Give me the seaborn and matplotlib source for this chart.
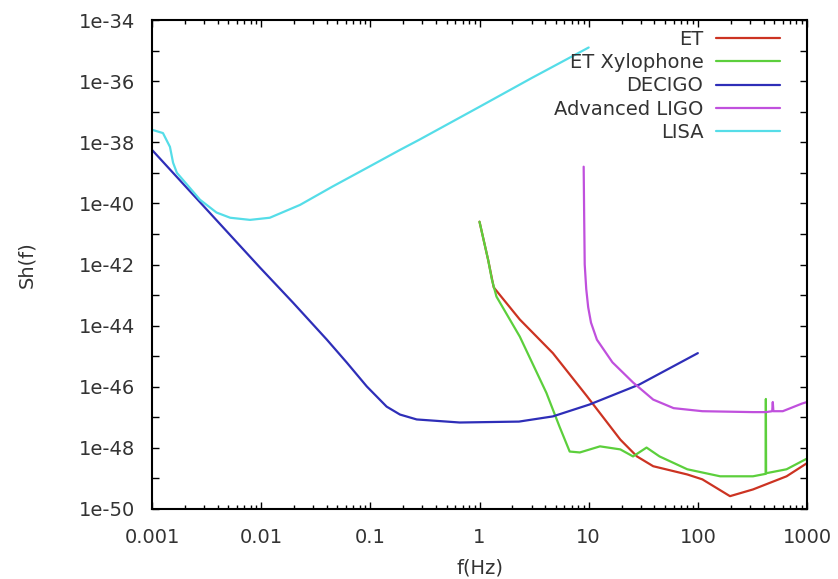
import numpy as np
import pandas as pd
import matplotlib
matplotlib.use("Agg")
import matplotlib.pyplot as plt
import matplotlib.ticker as mticker
import seaborn as sns

# ---------------- data (log10 of Sh(f)) ----------------
et_f = [1.0, 1.2, 1.35, 2.34, 4.7, 9.6, 19.5, 27.7, 39, 80, 110, 197, 320, 650, 1000]
et_logS = [-40.6, -41.85, -42.75, -43.8, -44.9, -46.3, -47.73, -48.28, -48.6,
           -48.87, -49.03, -49.58, -49.36, -48.93, -48.5]

xylo_f = [1.0, 1.2, 1.3, 1.43, 2.34, 4.1, 5.4, 6.7, 8.3, 12.7, 19.5, 25.5, 33.9,
          44.6, 80, 160, 320, 418, 420, 422, 650, 1000]
xylo_logS = [-40.6, -41.85, -42.5, -43.05, -44.36, -46.2, -47.3, -48.12, -48.15,
             -47.95, -48.05, -48.28, -47.99, -48.28, -48.7, -48.93, -48.93, -48.85,
             -46.4, -48.83, -48.7, -48.35]

decigo_f = [0.001, 0.00975, 0.0196, 0.040, 0.0609, 0.0928, 0.141, 0.187, 0.266,
            0.659, 2.3, 4.7, 10.2, 29, 100]
decigo_logS = [-38.25, -42.1, -43.25, -44.46, -45.21, -45.99, -46.65, -46.91,
               -47.07, -47.17, -47.14, -46.97, -46.58, -45.93, -44.9]

ligo_f = [9.0, 9.1, 9.2, 9.5, 9.9, 10.5, 11.9, 16.5, 25.5, 39, 60, 110, 320, 420,
          480, 486, 492, 600, 900, 1000]
ligo_logS = [-38.8, -40.5, -42.0, -42.8, -43.4, -43.9, -44.46, -45.2, -45.86,
             -46.42, -46.7, -46.8, -46.83, -46.83, -46.8, -46.5, -46.8, -46.8,
             -46.55, -46.5]

lisa_f = [0.00102, 0.00126, 0.00146, 0.00156, 0.00169, 0.00223, 0.00275, 0.0039,
          0.0052, 0.0079, 0.012, 0.0227, 0.045, 0.093, 0.187, 0.28, 1, 3, 10]
lisa_logS = [-37.6, -37.7, -38.15, -38.67, -39.0, -39.5, -39.88, -40.3, -40.47,
             -40.54, -40.47, -40.05, -39.45, -38.84, -38.25, -37.92, -36.84,
             -35.9, -34.9]

names = ["ET", "ET Xylophone", "DECIGO", "Advanced LIGO", "LISA"]
colors = ["#cc3322", "#5ccf3c", "#2e2eb8", "#c050dd", "#55dde8"]

x_ticks = [0.001, 0.01, 0.1, 1, 10, 100, 1000]
x_ticklabels = ["0.001", "0.01", "0.1", "1", "10", "100", "1000"]
y_exps = [-34, -36, -38, -40, -42, -44, -46, -48, -50]
y_ticklabels = ["1e-34", "1e-36", "1e-38", "1e-40", "1e-42", "1e-44", "1e-46",
                "1e-48", "1e-50"]

# ---------------- build table ----------------
frames = []
for name, f, ls in zip(names,
                       [et_f, xylo_f, decigo_f, ligo_f, lisa_f],
                       [et_logS, xylo_logS, decigo_logS, ligo_logS, lisa_logS]):
    frames.append(pd.DataFrame({"f": f, "S": np.power(10.0, ls), "detector": name}))
df = pd.concat(frames, ignore_index=True)

# ---------------- plot ----------------
sns.set_theme(style="white")
plt.rcParams["font.family"] = ["DejaVu Sans"]
FS = 14
TXT = "#333333"

fig = plt.figure(figsize=(8.38, 5.79), dpi=100)
ax = fig.add_axes([152 / 838, 1 - 509 / 579, 655 / 838, 489 / 579])
ax.set_xscale("log")
ax.set_yscale("log")

sns.lineplot(data=df, x="f", y="S", hue="detector", hue_order=names,
             palette=dict(zip(names, colors)), estimator=None, sort=True,
             linewidth=1.6, ax=ax)

ax.set_xlim(1e-3, 1e3)
ax.set_ylim(1e-50, 1e-34)

ax.xaxis.set_major_locator(mticker.FixedLocator(x_ticks))
ax.xaxis.set_major_formatter(mticker.FixedFormatter(x_ticklabels))
ax.xaxis.set_minor_locator(mticker.LogLocator(base=10, subs=np.arange(2, 10), numticks=20))
ax.xaxis.set_minor_formatter(mticker.NullFormatter())

yt = [10.0 ** e for e in y_exps]
ax.yaxis.set_major_locator(mticker.FixedLocator(yt))
ax.yaxis.set_major_formatter(mticker.FixedFormatter(y_ticklabels))
ax.yaxis.set_minor_locator(mticker.FixedLocator([10.0 ** e for e in range(-49, -34, 2)]))
ax.yaxis.set_minor_formatter(mticker.NullFormatter())

ax.tick_params(which="both", direction="in", top=True, right=True,
               bottom=True, left=True, color="black", width=1.0,
               labelsize=FS, labelcolor=TXT)
ax.tick_params(which="major", length=5)
ax.tick_params(axis="x", which="major", pad=13.5)
ax.tick_params(axis="y", which="major", pad=12)
ax.tick_params(axis="y", which="minor", length=5)
ax.tick_params(axis="x", which="minor", length=3)

for s in ax.spines.values():
    s.set_visible(True)
    s.set_color("black")
    s.set_linewidth(1.5)

ax.set_xlabel("f(Hz)", fontsize=FS, color=TXT)
ax.set_ylabel("Sh(f)", fontsize=FS, color=TXT)
ax.xaxis.set_label_coords(0.5008, -0.102)
ax.yaxis.set_label_coords(-0.176, 0.499)

handles, labels = ax.get_legend_handles_labels()
leg = ax.legend(handles, labels, loc="upper right",
                bbox_to_anchor=(788 / 838, 1 - 22 / 579),
                bbox_transform=fig.transFigure, frameon=False,
                markerfirst=False, fontsize=FS, handlelength=3.3,
                handletextpad=0.65, labelspacing=0.22, borderaxespad=0,
                borderpad=0.4)
for t in leg.get_texts():
    t.set_color(TXT)

fig.savefig("out.png", dpi=100, facecolor="white")
